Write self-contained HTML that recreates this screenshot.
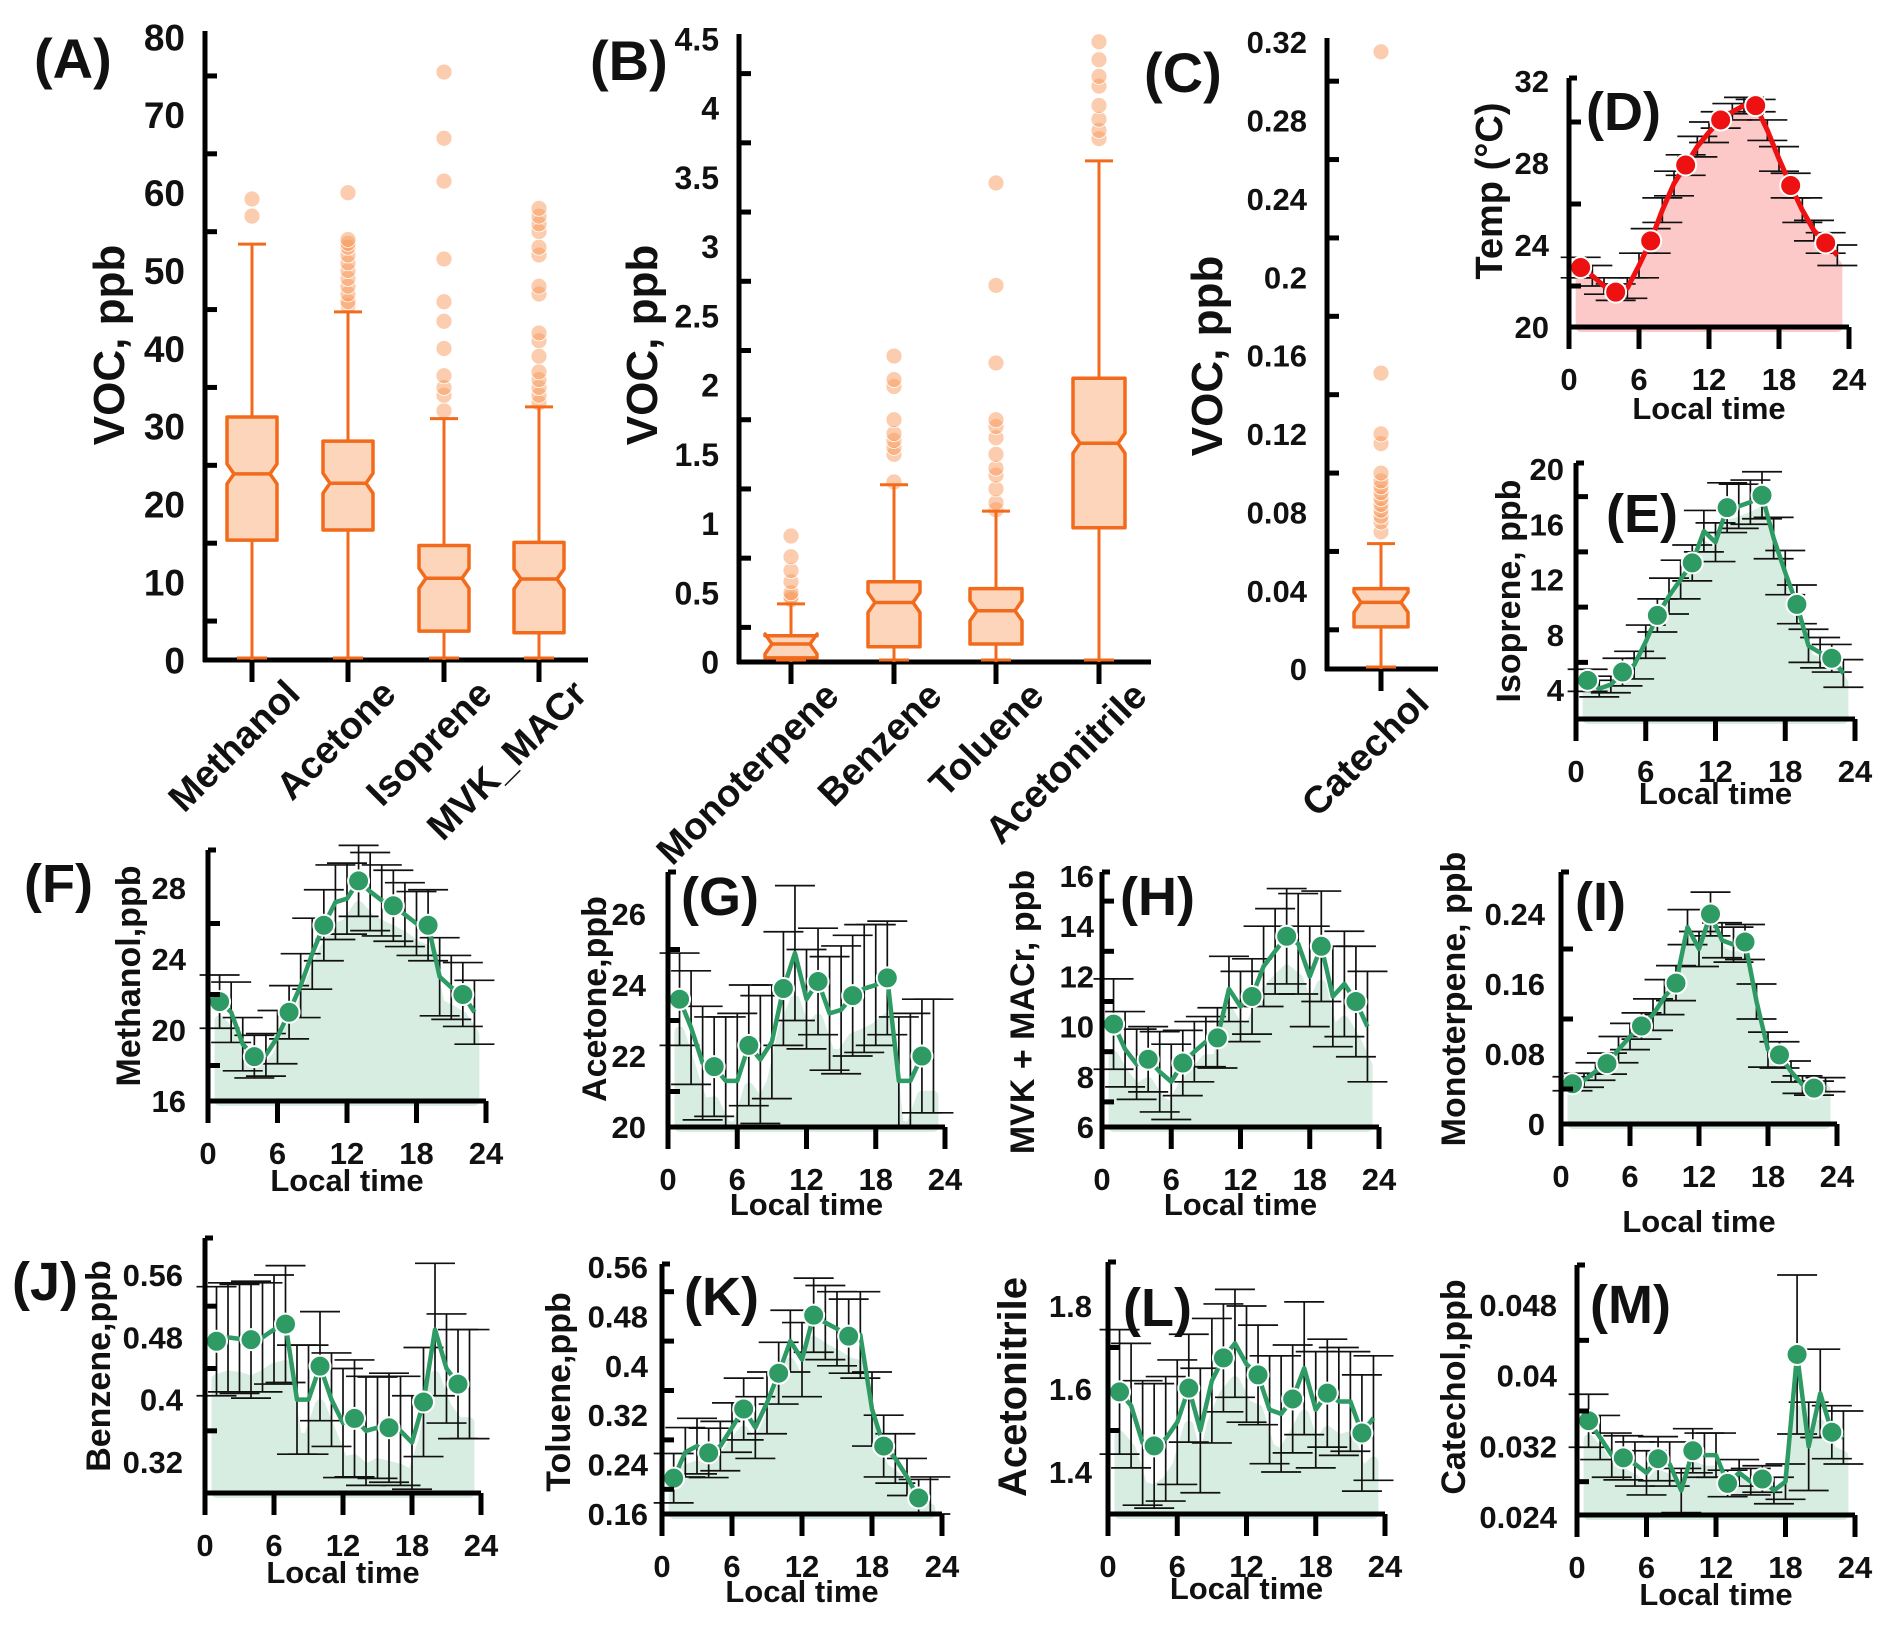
<!DOCTYPE html>
<html><head><meta charset="utf-8">
<style>
html,body{margin:0;padding:0;background:#fff;}
svg{display:block;}
text{font-family:"Liberation Sans",sans-serif;font-weight:bold;fill:#111;}
</style></head>
<body>
<svg id="fig" xmlns="http://www.w3.org/2000/svg" width="1892" height="1635" viewBox="0 0 1892 1635"></svg>
<script>
// ---------- Box plot data ----------
const boxCatsA = ["Methanol","Acetone","Isoprene","MVK_MACr"];
const boxQ1A = [15.4,16.7,3.7,3.5];
const boxMedA = [23.9,22.7,10.5,10.4];
const boxQ3A = [31.2,28.1,14.7,15.1];
const boxHiA = [53.4,44.7,31,32.5];
const boxLoA = [0,0,0,0];
const outA = [[57,59.2],[45.5,46,47,48,49,50,51,52,53,53.5,54,60],[32,34,35,36.5,40,43.5,46,51.5,61.5,67,75.5],[33,34,35,36,37,39,41,42,47,48,52,53,55,56,57,58]];
const yTicksA = [0,10,20,30,40,50,60,70,80];

const boxCatsB = ["Monoterpene","Benzene","Toluene","Acetonitrile"];
const boxQ1B = [0.03,0.11,0.13,0.97];
const boxMedB = [0.13,0.43,0.37,1.58];
const boxQ3B = [0.19,0.58,0.53,2.05];
const boxHiB = [0.42,1.28,1.09,3.62];
const boxLoB = [0,0,0,0];
const outB = [[0.45,0.47,0.5,0.58,0.66,0.76,0.91],[1.3,1.5,1.55,1.6,1.65,1.75,1.99,2.04,2.21],[1.1,1.15,1.25,1.35,1.4,1.5,1.62,1.7,1.75,2.16,2.72,3.46],[3.78,3.84,3.92,4.02,4.16,4.23,4.35,4.48]];
const yTicksB = [0,0.5,1,1.5,2,2.5,3,3.5,4,4.5];

const boxCatsC = ["Catechol"];
const boxQ1C = [0.0215];
const boxMedC = [0.034];
const boxQ3C = [0.041];
const boxHiC = [0.064];
const boxLoC = [0];
const outC = [[0.07,0.075,0.078,0.081,0.084,0.087,0.09,0.093,0.096,0.1,0.115,0.12,0.151,0.315]];
const yTicksC = [0,0.04,0.08,0.12,0.16,0.2,0.24,0.28,0.32];

// ---------- Diurnal data (hours 1..23) ----------
const hours = [1,2,3,4,5,6,7,8,9,10,11,12,13,14,15,16,17,18,19,20,21,22,23];
const markerHours = [1,4,7,10,13,16,19,22];
const tempVals = [22.9,22.5,22.0,21.7,21.9,23.0,24.2,25.7,27.0,27.9,28.8,29.5,30.1,30.5,30.8,30.8,29.6,28.2,26.9,25.7,24.7,24.1,23.5];
const tempErr = [0.5,0.5,0.4,0.4,0.5,0.6,0.6,0.6,0.6,0.5,0.5,0.5,0.4,0.4,0.4,0.3,0.5,0.6,0.6,0.6,0.5,0.5,0.5];
const isoVals = [4.7,4.1,4.4,5.3,5.8,7.5,9.4,10.8,12.0,13.2,15.5,14.7,17.2,17.3,17.6,18.1,15.0,12.5,10.2,7.2,6.7,6.3,5.2];
const isoErr = [0.8,0.6,0.6,1,1,1.2,1.2,1.3,1.4,1.3,1.5,1.4,1.8,1.6,1.6,1.7,1.5,1.6,1.4,1.2,1.1,1.0,1.0];
const methVals = [21.6,21.0,19.2,18.5,18.6,19.6,21.0,22.5,24.3,25.9,27.2,27.4,28.4,27.8,27.3,27.0,26.5,26.0,25.9,23.0,22.4,22.0,21.0];
const methErr = [1.5,1.7,1.5,1.2,1.2,1.5,1.5,1.8,2,2,2.1,2.0,2.0,2.2,2.0,2.0,1.8,1.8,2.0,2.2,1.8,1.8,1.8];
const acetVals = [23.6,22.8,21.8,21.7,21.3,21.3,22.3,21.9,22.4,23.9,24.9,23.6,24.1,23.2,23.3,23.7,23.9,24.0,24.2,21.3,21.3,22.0,22.0];
const acetErr = [1.3,1.6,1.6,1.4,1.8,1.9,1.7,1.8,1.6,1.6,1.9,1.4,1.5,1.6,1.8,1.7,1.8,1.7,1.6,1.8,1.9,1.6,1.6];
const mvkVals = [10.1,9.1,8.5,8.7,8.2,7.8,8.55,9.0,9.4,9.55,11.5,10.8,11.2,12.4,13.0,13.6,13.3,12.0,13.2,11.2,11.7,11.0,10.0];
const mvkErr = [1.8,1.5,1.4,1.3,1.6,1.5,1.3,1.2,1.0,1.2,1.3,1.4,1.5,1.6,1.7,1.9,2.0,2.0,2.2,2.0,2.1,2.2,2.2];
const monoVals = [0.046,0.05,0.06,0.069,0.085,0.10,0.112,0.125,0.145,0.161,0.225,0.20,0.240,0.21,0.205,0.208,0.14,0.085,0.079,0.06,0.045,0.041,0.045];
const monoErr = [0.008,0.008,0.01,0.012,0.015,0.015,0.015,0.018,0.02,0.02,0.02,0.02,0.025,0.02,0.02,0.02,0.02,0.02,0.015,0.012,0.01,0.008,0.008];
const benzVals = [0.475,0.48,0.478,0.477,0.48,0.49,0.497,0.40,0.40,0.443,0.40,0.37,0.376,0.36,0.364,0.364,0.36,0.345,0.397,0.49,0.44,0.42,0.42];
const benzErr = [0.07,0.07,0.07,0.075,0.07,0.07,0.075,0.07,0.07,0.07,0.06,0.07,0.075,0.07,0.065,0.07,0.07,0.06,0.07,0.085,0.07,0.07,0.07];
const tolVals = [0.218,0.26,0.27,0.259,0.27,0.30,0.330,0.30,0.34,0.388,0.44,0.41,0.482,0.47,0.46,0.448,0.45,0.33,0.270,0.25,0.22,0.186,0.19];
const tolErr = [0.04,0.04,0.045,0.04,0.04,0.04,0.05,0.05,0.05,0.05,0.05,0.06,0.06,0.06,0.06,0.06,0.07,0.06,0.05,0.04,0.03,0.03,0.03];
const acnVals = [1.593,1.56,1.47,1.463,1.48,1.52,1.602,1.50,1.62,1.675,1.71,1.66,1.634,1.55,1.54,1.576,1.65,1.55,1.59,1.57,1.57,1.494,1.53];
const acnErr = [0.15,0.15,0.15,0.15,0.15,0.15,0.13,0.15,0.15,0.13,0.13,0.14,0.12,0.13,0.14,0.13,0.16,0.14,0.13,0.13,0.12,0.14,0.15];
const catVals = [0.0349,0.033,0.031,0.0307,0.030,0.029,0.0306,0.030,0.027,0.0315,0.031,0.031,0.0278,0.029,0.028,0.0283,0.027,0.028,0.0424,0.032,0.038,0.0336,0.033];
const catErr = [0.003,0.0025,0.0025,0.0025,0.0025,0.0025,0.0025,0.0025,0.0025,0.0025,0.0025,0.0025,0.0015,0.0015,0.0015,0.0015,0.0015,0.002,0.009,0.005,0.005,0.003,0.003];
const xTicksHour = [0,6,12,18,24];

const NS = "http://www.w3.org/2000/svg";
const svg = document.getElementById('fig');
function el(tag, attrs, parent){
  const e = document.createElementNS(NS, tag);
  for (const k in attrs) e.setAttribute(k, attrs[k]);
  (parent||svg).appendChild(e);
  return e;
}
function txt(s, attrs, parent){ const t = el('text', attrs, parent); t.textContent = s; return t; }

// ---------- Box plot panel ----------
function boxPanel(cfg){
  const g = el('g', {});
  
  
  const y = v => cfg.by - (v - cfg.vmin) / (cfg.vmax - cfg.vmin) * (cfg.by - cfg.vy);
  const ya = el('line', {x1:cfg.ax, y1:cfg.ty, x2:cfg.ax, y2:cfg.by+2, stroke:'#000','stroke-width':5}, g);
  
  
  const xa = el('line', {x1:cfg.ax-2, y1:cfg.by, x2:cfg.ex, y2:cfg.by, stroke:'#000','stroke-width':5}, g);
  
  
  cfg.ticks.forEach((t, i) => {
    const tl = txt(cfg.fmt(t), {x:cfg.ax-20, y:y(t)+cfg.fs*0.36, 'text-anchor':'end', 'font-size':cfg.fs}, g);
    
    
    if (i < cfg.ticks.length - 1) {
      const m = (t + cfg.ticks[i+1]) / 2;
      el('line', {x1:cfg.ax, y1:y(m), x2:cfg.ax+12, y2:y(m), stroke:'#000','stroke-width':5}, g);
    }
  });
  cfg.cats.forEach((c, i) => {
    const cx = cfg.cx[i], w = cfg.bw/2;
    const bg = el('g', {}, g);
    
    
    el('line', {x1:cx, y1:cfg.by, x2:cx, y2:cfg.by+22, stroke:'#000','stroke-width':5}, bg);
    cfg.out[i].forEach(v => {
      const o = el('circle', {cx:cx, cy:y(v), r:8, fill:'#f7995c', 'fill-opacity':0.5, stroke:'#fff', 'stroke-width':0.8}, bg);
      
      
    });
    const q1 = y(cfg.q1[i]), q3 = y(cfg.q3[i]), md = y(cfg.med[i]);
    el('line', {x1:cx, y1:q3, x2:cx, y2:y(cfg.hi[i]), stroke:'#f26a1b','stroke-width':3}, bg);
    el('line', {x1:cx, y1:q1, x2:cx, y2:y(cfg.lo[i]), stroke:'#f26a1b','stroke-width':3}, bg);
    el('line', {x1:cx-14, y1:y(cfg.hi[i]), x2:cx+14, y2:y(cfg.hi[i]), stroke:'#f26a1b','stroke-width':3}, bg);
    el('line', {x1:cx-15, y1:y(cfg.lo[i])-2, x2:cx+15, y2:y(cfg.lo[i])-2, stroke:'#f26a1b','stroke-width':3}, bg);
    const n = Math.min(10, (q1 - q3) / 2 - 1), ind = 7;
    const pts = [[cx-w,q3],[cx+w,q3],[cx+w,md-n],[cx+w-ind,md],[cx+w,md+n],[cx+w,q1],[cx-w,q1],[cx-w,md+n],[cx-w+ind,md],[cx-w,md-n]];
    el('polygon', {points:pts.map(p=>p.join(',')).join(' '), fill:'#fdd5bb', stroke:'#f26a1b','stroke-width':3.5,'stroke-linejoin':'round'}, bg);
    el('line', {x1:cx-w+ind, y1:md, x2:cx+w-ind, y2:md, stroke:'#f26a1b','stroke-width':3.5}, bg);
    const lab = txt(c, {x:cx+50, y:cfg.by+36, 'text-anchor':'end', 'font-size':cfg.cfs, transform:`rotate(-45 ${cx+50} ${cfg.by+36})`}, g);
    
    
  });
  const tt = txt(cfg.title, {x:cfg.titX, y:cfg.titY, 'text-anchor':'middle', 'font-size':44, transform:`rotate(-90 ${cfg.titX} ${cfg.titY})`}, g);
  
  
  const pl = txt(cfg.panel, {x:cfg.plX, y:cfg.plY, 'font-size':56}, g);
  
  
}

boxPanel({name:'panel-a-boxplot', ax:205, ty:31, by:660, ex:588, vmin:0, vmax:80, vy:37, ticks:yTicksA, fmt:v=>String(v), fs:37,
  cats:boxCatsA, cx:[252,348,444,539], bw:50, q1:boxQ1A, med:boxMedA, q3:boxQ3A, hi:boxHiA, lo:boxLoA, out:outA, cfs:38,
  title:'VOC, ppb', titX:124, titY:345, panel:'(A)', plX:34, plY:78});
boxPanel({name:'panel-b-boxplot', ax:739, ty:34, by:662, ex:1151, vmin:0, vmax:4.5, vy:39, ticks:yTicksB, fmt:v=>String(v), fs:32,
  cats:boxCatsB, cx:[791,894,996,1099], bw:52, q1:boxQ1B, med:boxMedB, q3:boxQ3B, hi:boxHiB, lo:boxLoB, out:outB, cfs:38,
  title:'VOC, ppb', titX:657, titY:345, panel:'(B)', plX:590, plY:80});
boxPanel({name:'panel-c-boxplot', ax:1327, ty:38, by:669, ex:1438, vmin:0, vmax:0.32, vy:42, ticks:yTicksC, fmt:v=>String(v), fs:31,
  cats:boxCatsC, cx:[1381], bw:54, q1:boxQ1C, med:boxMedC, q3:boxQ3C, hi:boxHiC, lo:boxLoC, out:outC, cfs:38,
  title:'VOC, ppb', titX:1222, titY:356, panel:'(C)', plX:1144, plY:92});

// ---------- Diurnal line panel ----------
function linePanel(cfg){
  const g = el('g', {});
  
  
  const y = v => cfg.y0 - (v - cfg.v0) / (cfg.v1 - cfg.v0) * (cfg.y0 - cfg.y1);
  const x = h => cfg.ax + h / 24 * (cfg.ex - cfg.ax);
  const hs = cfg.hours, vs = cfg.vals, es = cfg.err;
  let d = `M${x(hs[0])},${cfg.by}`;
  hs.forEach((h,i)=>{ d += ` L${x(h)},${Math.min(cfg.by, y(vs[i]-es[i]*cfg.fillFrac))}`; });
  d += ` L${x(hs[hs.length-1])},${cfg.by} Z`;
  const f = el('path', {d:d, fill:cfg.fill, stroke:cfg.fill, 'stroke-width':10, 'stroke-linejoin':'round'}, g);
  
  
  hs.forEach((h,i)=>{
    const xx = x(h), yt = y(vs[i]+es[i]), yb = Math.min(cfg.by, y(vs[i]-es[i]));
    const eb = el('g', {}, g);
    
    
    el('line', {x1:xx, y1:yt, x2:xx, y2:yb, stroke:'#111','stroke-width':1.7}, eb);
    el('line', {x1:xx-cfg.cap, y1:yt, x2:xx+cfg.cap, y2:yt, stroke:'#111','stroke-width':1.7}, eb);
    el('line', {x1:xx-cfg.cap, y1:yb, x2:xx+cfg.cap, y2:yb, stroke:'#111','stroke-width':1.7}, eb);
  });
  const ln = el('polyline', {points:hs.map((h,i)=>x(h)+','+y(vs[i])).join(' '), fill:'none', stroke:cfg.color, 'stroke-width':cfg.lw||4.5, 'stroke-linejoin':'round'}, g);
  
  
  cfg.markers.forEach(h=>{
    const i = hs.indexOf(h);
    const c = el('circle', {cx:x(h), cy:y(vs[i]), r:10.5, fill:cfg.color, stroke:'#fff', 'stroke-width':2}, g);
    
    
  });
  const ya = el('line', {x1:cfg.ax, y1:cfg.ty, x2:cfg.ax, y2:cfg.by+22, stroke:'#000','stroke-width':5}, g);
  
  
  el('line', {x1:cfg.ax, y1:cfg.ty, x2:cfg.ax+8, y2:cfg.ty, stroke:'#000','stroke-width':5}, g);
  const xa = el('line', {x1:cfg.ax, y1:cfg.by, x2:cfg.ex, y2:cfg.by, stroke:'#000','stroke-width':5}, g);
  
  
  xTicksHour.forEach(h=>{
    el('line', {x1:x(h), y1:cfg.by, x2:x(h), y2:cfg.by+22, stroke:'#000','stroke-width':5}, g);
    const tl = txt(String(h), {x:x(h), y:cfg.by+63, 'text-anchor':'middle', 'font-size':31}, g);
    
    
  });
  cfg.ticks.forEach((t,i)=>{
    const tl = txt(cfg.fmt(t), {x:cfg.ax-cfg.lg, y:y(t)+11, 'text-anchor':'end', 'font-size':31}, g);
    
    
    if (i < cfg.ticks.length-1){
      const m = (t+cfg.ticks[i+1])/2;
      el('line', {x1:cfg.ax, y1:y(m), x2:cfg.ax+12, y2:y(m), stroke:'#000','stroke-width':5}, g);
    }
  });
  const xt = txt('Local time', {x:(cfg.ax+cfg.ex)/2, y:cfg.by+cfg.ltY, 'text-anchor':'middle', 'font-size':31}, g);
  
  
  const tt = txt(cfg.title, {x:cfg.titX, y:cfg.titY, 'text-anchor':'middle', 'font-size':cfg.tfs||34, transform:`rotate(-90 ${cfg.titX} ${cfg.titY})`}, g);
  
  
  const pl = txt(cfg.panel, {x:cfg.plX, y:cfg.plY, 'font-size':54}, g);
  
  
}
const G = '#2e9a64', GF = '#d8ede1';
linePanel({name:'panel-d-temp', ax:1569, ty:78, by:327, ex:1849, v0:20, v1:32, y0:327, y1:81, ticks:[20,24,28,32], fmt:String, lg:20,
  hours:hours, vals:tempVals, err:tempErr, markers:markerHours, color:'#ee1111', fill:'#fdc8c8', cap:20, fillFrac:1, lw:5,
  title:'Temp (°C)', titX:1502, titY:191, tfs:38, panel:'(D)', plX:1586, plY:130, ltY:92});
linePanel({name:'panel-e-isoprene', ax:1576, ty:463, by:719, ex:1855, v0:4, v1:20, y0:690, y1:469, ticks:[4,8,12,16,20], fmt:String, lg:12,
  hours:hours, vals:isoVals, err:isoErr, markers:markerHours, color:G, fill:GF, cap:20, fillFrac:0.7,
  title:'Isoprene, ppb', titX:1520, titY:591, panel:'(E)', plX:1606, plY:532, ltY:85});
linePanel({name:'panel-f-methanol', ax:208, ty:850, by:1101, ex:486, v0:16, v1:28, y0:1101, y1:888, ticks:[16,20,24,28], fmt:String, lg:22,
  hours:hours, vals:methVals, err:methErr, markers:markerHours, color:G, fill:GF, cap:20, fillFrac:0.7,
  title:'Methanol,ppb', titX:140, titY:976, panel:'(F)', plX:24, plY:902, ltY:90});
linePanel({name:'panel-g-acetone', ax:668, ty:872, by:1127, ex:945, v0:20, v1:26, y0:1127, y1:914, ticks:[20,22,24,26], fmt:String, lg:22,
  hours:hours, vals:acetVals, err:acetErr, markers:markerHours, color:G, fill:GF, cap:20, fillFrac:0.7,
  title:'Acetone,ppb', titX:606, titY:999, panel:'(G)', plX:681, plY:915, ltY:88});
linePanel({name:'panel-h-mvk-macr', ax:1102, ty:872, by:1127, ex:1379, v0:6, v1:16, y0:1127, y1:876, ticks:[6,8,10,12,14,16], fmt:String, lg:8,
  hours:hours, vals:mvkVals, err:mvkErr, markers:markerHours, color:G, fill:GF, cap:20, fillFrac:0.7,
  title:'MVK + MACr, ppb', titX:1034, titY:1012, panel:'(H)', plX:1120, plY:915, ltY:88});
linePanel({name:'panel-i-monoterpene', ax:1561, ty:872, by:1124, ex:1837, v0:0, v1:0.24, y0:1124, y1:914, ticks:[0,0.08,0.16,0.24], fmt:String, lg:16,
  hours:hours, vals:monoVals, err:monoErr, markers:markerHours, color:G, fill:GF, cap:20, fillFrac:0.7,
  title:'Monoterpene, ppb', titX:1465, titY:999, panel:'(I)', plX:1575, plY:920, ltY:108});
linePanel({name:'panel-j-benzene', ax:205, ty:1238, by:1493, ex:481, v0:0.32, v1:0.56, y0:1462, y1:1275, ticks:[0.32,0.4,0.48,0.56], fmt:String, lg:22,
  hours:hours, vals:benzVals, err:benzErr, markers:markerHours, color:G, fill:GF, cap:20, fillFrac:0.7,
  title:'Benzene,ppb', titX:110, titY:1366, panel:'(J)', plX:12, plY:1300, ltY:90});
linePanel({name:'panel-k-toluene', ax:662, ty:1264, by:1514, ex:942, v0:0.16, v1:0.56, y0:1514, y1:1267, ticks:[0.16,0.24,0.32,0.4,0.48,0.56], fmt:String, lg:14,
  hours:hours, vals:tolVals, err:tolErr, markers:markerHours, color:G, fill:GF, cap:20, fillFrac:0.7,
  title:'Toluene,ppb', titX:570, titY:1392, panel:'(K)', plX:684, plY:1315, ltY:88});
linePanel({name:'panel-l-acetonitrile', ax:1108, ty:1262, by:1514, ex:1385, v0:1.4, v1:1.8, y0:1472, y1:1306, ticks:[1.4,1.6,1.8], fmt:String, lg:16,
  hours:hours, vals:acnVals, err:acnErr, markers:markerHours, color:G, fill:GF, cap:20, fillFrac:0.7,
  title:'Acetonitrile', titX:1026, titY:1387, tfs:40, panel:'(L)', plX:1123, plY:1326, ltY:85});
linePanel({name:'panel-m-catechol', ax:1577, ty:1265, by:1515, ex:1855, v0:0.024, v1:0.048, y0:1517, y1:1305, ticks:[0.024,0.032,0.04,0.048], fmt:String, lg:20,
  hours:hours, vals:catVals, err:catErr, markers:markerHours, color:G, fill:GF, cap:20, fillFrac:0.7,
  title:'Catechol,ppb', titX:1465, titY:1387, panel:'(M)', plX:1590, plY:1323, ltY:90});
</script>
</body></html>
